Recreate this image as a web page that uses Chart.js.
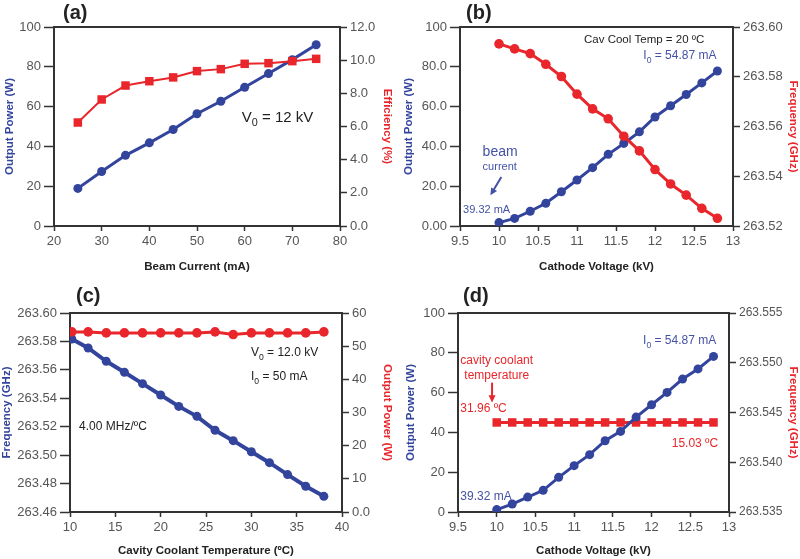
<!DOCTYPE html>
<html>
<head>
<meta charset="utf-8">
<script src="https://cdn.jsdelivr.net/npm/chart.js@4.4.0/dist/chart.umd.min.js"></script>
<style>
html, body { margin: 0; padding: 0; background: #fff; }
#wrap { position: relative; width: 800px; height: 559px; overflow: hidden; }
.panel { position: absolute; width: 400px; }
.tag { position: absolute; font: bold 20px "Liberation Sans", Arial, sans-serif; line-height: 22px; color: #222; }
</style>
</head>
<body>
<div id="wrap">
    <div class="panel" style="left:0;top:0;height:280px"><canvas id="chart-a"></canvas></div>
    <div class="panel" style="left:400px;top:0;height:280px"><canvas id="chart-b"></canvas></div>
    <div class="panel" style="left:0;top:280px;height:279px"><canvas id="chart-c"></canvas></div>
    <div class="panel" style="left:400px;top:280px;height:279px"><canvas id="chart-d"></canvas></div>
    <div class="tag" style="left:63px;top:1px">(a)</div>
    <div class="tag" style="left:466px;top:1px">(b)</div>
    <div class="tag" style="left:76px;top:284px">(c)</div>
    <div class="tag" style="left:463px;top:284px">(d)</div>
</div>
<script>
// Colours and fonts
const FONT = '"Liberation Sans", Arial, Helvetica, sans-serif';
const BLUE = '#33449c';
const BLUE_TXT = '#4452a6';
const RED = '#e8262b';
const AXIS = '#333333';
const TICK_TXT = '#555555';

// (a) power / efficiency vs beam current
const aCurrent = [25, 30, 35, 40, 45, 50, 55, 60, 65, 70, 75];
const aPower = [18.9, 27.4, 35.5, 41.8, 48.5, 56.4, 62.7, 69.7, 76.6, 83.6, 91.1];
const aEfficiency = [6.24, 7.63, 8.47, 8.73, 8.96, 9.34, 9.46, 9.78, 9.82, 9.94, 10.08];
const aXTicks = [20, 30, 40, 50, 60, 70, 80];
const aPowerTicks = [0, 20, 40, 60, 80, 100];
const aPowerLabels = ['0', '20', '40', '60', '80', '100'];
const aEffTicks = [0, 2, 4, 6, 8, 10, 12];
const aEffLabels = ['0.0', '2.0', '4.0', '6.0', '8.0', '10.0', '12.0'];

// (b) power / frequency vs cathode voltage
const bVoltage = [10, 10.2, 10.4, 10.6, 10.8, 11, 11.2, 11.4, 11.6, 11.8, 12, 12.2, 12.4, 12.6, 12.8];
const bPower = [1.7, 3.8, 7.4, 11.4, 17.2, 23.1, 29.3, 36.0, 41.5, 47.3, 54.8, 60.4, 66.1, 71.9, 77.9];
const bFreq = [263.5932, 263.5912, 263.5893, 263.5850, 263.5801, 263.5730, 263.5671, 263.5631,
               263.5561, 263.5502, 263.5427, 263.5369, 263.5324, 263.5271, 263.5231];
const vXTicks = [9.5, 10, 10.5, 11, 11.5, 12, 12.5, 13];
const vXLabels = ['9.5', '10', '10.5', '11', '11.5', '12', '12.5', '13'];
const bPowerLabels = ['0.00', '20.0', '40.0', '60.0', '80.0', '100'];
const bFreqTicks = [263.52, 263.54, 263.56, 263.58, 263.60];
const bFreqLabels = ['263.52', '263.54', '263.56', '263.58', '263.60'];

// (c) frequency / power vs cavity coolant temperature
const cTemp = [10.2, 12, 14, 16, 18, 20, 22, 24, 26, 28, 30, 32, 34, 36, 38];
const cFreq = [263.5817, 263.5754, 263.5660, 263.5583, 263.5503, 263.5423, 263.5343, 263.5273,
               263.5175, 263.5102, 263.5024, 263.4947, 263.4863, 263.4781, 263.4710];
const cPower = [54.3, 54.3, 54.0, 54.0, 54.0, 54.0, 54.0, 54.0, 54.3, 53.5, 54.0, 54.0, 54.0, 54.0, 54.3];
const cXTicks = [10, 15, 20, 25, 30, 35, 40];
const cFreqTicks = [263.46, 263.48, 263.50, 263.52, 263.54, 263.56, 263.58, 263.60];
const cFreqLabels = ['263.46', '263.48', '263.50', '263.52', '263.54', '263.56', '263.58', '263.60'];
const cPowerTicks = [0, 10, 20, 30, 40, 50, 60];
const cPowerLabels = ['0.0', '10', '20', '30', '40', '50', '60'];

// (d) power / frequency vs cathode voltage, coolant temperature tracked
const dVoltage = [10, 10.2, 10.4, 10.6, 10.8, 11, 11.2, 11.4, 11.6, 11.8, 12, 12.2, 12.4, 12.6, 12.8];
const dPower = [1.2, 4.0, 7.5, 10.9, 17.4, 23.3, 28.8, 35.8, 40.5, 47.7, 53.9, 60.1, 66.8, 71.9, 78.2];
const dFreq = [263.5440, 263.5440, 263.5440, 263.5440, 263.5440, 263.5440, 263.5440, 263.5440,
               263.5440, 263.5440, 263.5440, 263.5440, 263.5440, 263.5440, 263.5440];
const dFreqTicks = [263.535, 263.540, 263.545, 263.550, 263.555];
const dFreqLabels = ['263.535', '263.540', '263.545', '263.550', '263.555'];

// Frame top edge + text notes / arrows in data coordinates
const notesPlugin = {
    id: 'notes',
    beforeDatasetsDraw(chart) {
        const a = chart.chartArea;
        const ctx = chart.ctx;
        ctx.save();
        ctx.strokeStyle = AXIS;
        ctx.lineWidth = 2;
        ctx.beginPath();
        ctx.moveTo(a.left - 1, a.top);
        ctx.lineTo(a.right + 1, a.top);
        ctx.stroke();
        ctx.restore();
    },
    afterDatasetsDraw(chart, args, opts) {
        const ctx = chart.ctx;
        const xs = chart.scales.x;
        (opts.items || []).forEach(n => {
            const ys = chart.scales[n.axis || 'yL'];
            const px = xs.getPixelForValue(n.x);
            const py = ys.getPixelForValue(n.y);
            ctx.save();
            ctx.fillStyle = n.color;
            ctx.strokeStyle = n.color;
            if (n.to) {
                const tx = xs.getPixelForValue(n.to[0]);
                const ty = ys.getPixelForValue(n.to[1]);
                const ang = Math.atan2(ty - py, tx - px);
                const head = 8;
                ctx.lineWidth = 2;
                ctx.beginPath();
                ctx.moveTo(px, py);
                ctx.lineTo(tx - Math.cos(ang) * head * 0.8, ty - Math.sin(ang) * head * 0.8);
                ctx.stroke();
                ctx.beginPath();
                ctx.moveTo(tx, ty);
                ctx.lineTo(tx - Math.cos(ang - 0.45) * head, ty - Math.sin(ang - 0.45) * head);
                ctx.lineTo(tx - Math.cos(ang + 0.45) * head, ty - Math.sin(ang + 0.45) * head);
                ctx.closePath();
                ctx.fill();
            } else {
                drawRich(ctx, n.parts, px, py, n.size, n.align || 'left');
            }
            ctx.restore();
        });
    }
};

function drawRich(ctx, parts, x, y, size, align) {
    const subSize = size * 0.72;
    let total = 0;
    parts.forEach(p => {
        ctx.font = `${p[1] ? subSize : size}px ${FONT}`;
        total += ctx.measureText(p[0]).width;
    });
    let cx = align === 'center' ? x - total / 2 : x;
    ctx.textBaseline = 'middle';
    ctx.textAlign = 'left';
    parts.forEach(p => {
        ctx.font = `${p[1] ? subSize : size}px ${FONT}`;
        ctx.fillText(p[0], cx, p[1] ? y + size * 0.38 : y);
        cx += ctx.measureText(p[0]).width;
    });
}

function axis(o) {
    return {
        type: 'linear',
        position: o.pos,
        min: o.min,
        max: o.max,
        afterBuildTicks: s => { s.ticks = o.ticks.map(v => ({ value: v })); },
        afterFit: s => { if (o.pos === 'bottom') s.height = o.size; else s.width = o.size; },
        ticks: {
            callback: v => o.labels[o.ticks.findIndex(t => Math.abs(t - v) < 1e-9)],
            color: TICK_TXT,
            font: { family: FONT, size: o.font || 13 },
            padding: 3,
            autoSkip: false,
            maxRotation: 0
        },
        grid: {
            drawOnChartArea: false,
            drawTicks: true,
            tickLength: o.tick,
            tickColor: AXIS,
            tickWidth: 1.5
        },
        border: { display: true, color: AXIS, width: 2 },
        title: {
            display: true,
            text: o.title,
            color: o.color,
            font: { family: FONT, size: 11.5, weight: 'bold' },
            padding: { top: o.tpad, bottom: o.tpad }
        }
    };
}

function series(xs, ys, axisId, color, width, radius, style, order) {
    return {
        data: xs.map((x, i) => ({ x, y: ys[i] })),
        yAxisID: axisId,
        borderColor: color,
        backgroundColor: color,
        borderWidth: width,
        pointRadius: radius,
        pointHoverRadius: radius,
        pointStyle: style,
        pointBorderWidth: 0,
        order
    };
}

function makeChart(id, top, scales, datasets, notes) {
    return new Chart(document.getElementById(id), {
        type: 'line',
        data: { datasets },
        options: {
            responsive: true,
            maintainAspectRatio: false,
            animation: false,
            layout: { padding: { top, left: 0, right: 0, bottom: 0 } },
            plugins: { legend: { display: false }, tooltip: { enabled: false }, notes: { items: notes } },
            scales
        },
        plugins: [notesPlugin]
    });
}

// (a)
makeChart('chart-a', 27, {
    x: axis({ pos: 'bottom', min: 20, max: 80, ticks: aXTicks, labels: aXTicks.map(String), size: 54, tick: 5, title: 'Beam Current (mA)', color: '#222', tpad: 6 }),
    yL: axis({ pos: 'left', min: 0, max: 100, ticks: aPowerTicks, labels: aPowerLabels, size: 54, tick: 10, title: 'Output Power (W)', color: BLUE, tpad: 3 }),
    yR: axis({ pos: 'right', min: 0, max: 12, ticks: aEffTicks, labels: aEffLabels, size: 60, tick: 7, title: 'Efficiency (%)', color: RED, tpad: 6 })
}, [
    series(aCurrent, aPower, 'yL', BLUE, 3, 4.5, 'circle', 1),
    series(aCurrent, aEfficiency, 'yR', RED, 2, 6, 'rect', 0)
], [
    { x: 59.4, y: 54.5, color: '#222', size: 15, parts: [['V', 0], ['0', 1], [' = 12 kV', 0]] }
]);

// (b)
makeChart('chart-b', 27, {
    x: axis({ pos: 'bottom', min: 9.5, max: 13, ticks: vXTicks, labels: vXLabels, size: 54, tick: 5, title: 'Cathode Voltage (kV)', color: '#222', tpad: 6 }),
    yL: axis({ pos: 'left', min: 0, max: 100, ticks: aPowerTicks, labels: bPowerLabels, size: 60, tick: 10, title: 'Output Power (W)', color: BLUE, tpad: 2 }),
    yR: axis({ pos: 'right', min: 263.52, max: 263.60, ticks: bFreqTicks, labels: bFreqLabels, size: 67, tick: 7, title: 'Frequency (GHz)', color: RED, tpad: 0 })
}, [
    series(bVoltage, bPower, 'yL', BLUE, 3, 4.5, 'circle', 1),
    series(bVoltage, bFreq, 'yR', RED, 3, 4.8, 'circle', 0)
], [
    { x: 11.09, y: 93.5, color: '#222', size: 11.5, parts: [['Cav Cool Temp = 20 ºC', 0]] },
    { x: 11.85, y: 85.5, color: BLUE_TXT, size: 12, parts: [['I', 0], ['0', 1], [' = 54.87 mA', 0]] },
    { x: 9.79, y: 37.2, color: BLUE_TXT, size: 14, parts: [['beam', 0]] },
    { x: 9.79, y: 29.6, color: BLUE_TXT, size: 11, parts: [['current', 0]] },
    { x: 10.03, y: 24.6, to: [9.89, 15.4], color: BLUE_TXT },
    { x: 9.54, y: 8.0, color: BLUE_TXT, size: 11, parts: [['39.32 mA', 0]] }
]);

// (c)
makeChart('chart-c', 33, {
    x: axis({ pos: 'bottom', min: 10, max: 40, ticks: cXTicks, labels: cXTicks.map(String), size: 47, tick: 5, title: 'Cavity Coolant Temperature (ºC)', color: '#222', tpad: 1 }),
    yL: axis({ pos: 'left', min: 263.46, max: 263.60, ticks: cFreqTicks, labels: cFreqLabels, size: 70, tick: 10, title: 'Frequency (GHz)', color: BLUE, tpad: 0 }),
    yR: axis({ pos: 'right', min: 0, max: 60, ticks: cPowerTicks, labels: cPowerLabels, size: 58, tick: 7, title: 'Output Power (W)', color: RED, tpad: 6 })
}, [
    series(cTemp, cFreq, 'yL', BLUE, 4, 4.5, 'circle', 1),
    series(cTemp, cPower, 'yR', RED, 3, 4.8, 'circle', 0)
], [
    { x: 29.96, y: 263.5719, color: '#222', size: 12, parts: [['V', 0], ['0', 1], [' = 12.0 kV', 0]] },
    { x: 29.96, y: 263.5550, color: '#222', size: 12, parts: [['I', 0], ['0', 1], [' = 50 mA', 0]] },
    { x: 11.0, y: 263.5198, color: '#222', size: 12, parts: [['4.00 MHz/ºC', 0]] }
]);

// (d)
makeChart('chart-d', 33, {
    x: axis({ pos: 'bottom', min: 9.5, max: 13, ticks: vXTicks, labels: vXLabels, size: 47, tick: 5, title: 'Cathode Voltage (kV)', color: '#222', tpad: 1 }),
    yL: axis({ pos: 'left', min: 0, max: 100, ticks: aPowerTicks, labels: aPowerLabels, size: 58, tick: 10, title: 'Output Power (W)', color: BLUE, tpad: 4 }),
    yR: axis({ pos: 'right', min: 263.535, max: 263.555, ticks: dFreqTicks, labels: dFreqLabels, size: 71, tick: 7, font: 12, title: 'Frequency (GHz)', color: RED, tpad: 0 })
}, [
    series(dVoltage, dPower, 'yL', BLUE, 3, 4.5, 'circle', 0),
    series(dVoltage, dFreq, 'yR', RED, 3, 6, 'rect', 1)
], [
    { x: 11.89, y: 86.0, color: BLUE_TXT, size: 12, parts: [['I', 0], ['0', 1], [' = 54.87 mA', 0]] },
    { x: 10.0, y: 76.0, color: RED, size: 12, align: 'center', parts: [['cavity coolant', 0]] },
    { x: 10.0, y: 68.6, color: RED, size: 12, align: 'center', parts: [['temperature', 0]] },
    { x: 9.94, y: 65.0, to: [9.94, 55.0], color: RED },
    { x: 9.53, y: 51.8, color: RED, size: 12, parts: [['31.96 ºC', 0]] },
    { x: 12.26, y: 34.2, color: RED, size: 12, parts: [['15.03 ºC', 0]] },
    { x: 9.53, y: 7.5, color: BLUE_TXT, size: 12, parts: [['39.32 mA', 0]] }
]);
</script>
</body>
</html>
